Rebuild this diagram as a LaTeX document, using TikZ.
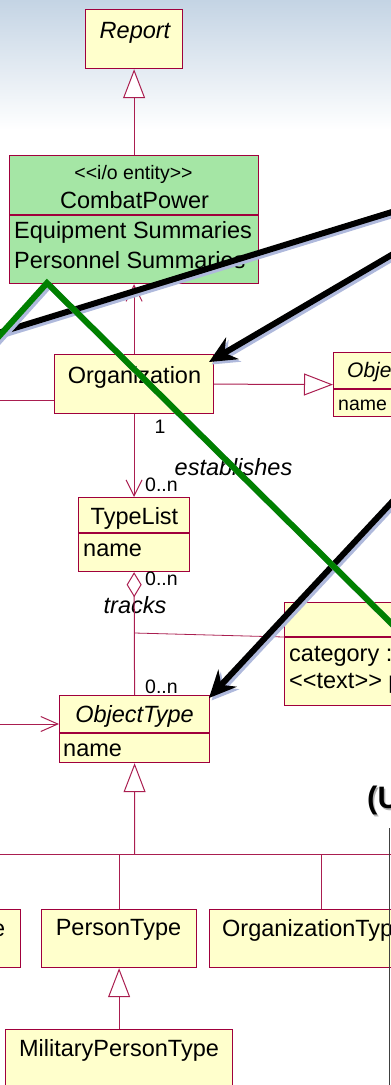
\documentclass[tikz,border=0pt]{standalone}
\usepackage{fontspec}
\setmainfont{Liberation Sans}
\usetikzlibrary{arrows.meta}
\definecolor{umlred}{RGB}{160,0,60}
\definecolor{lnred}{RGB}{170,30,80}
\definecolor{umlyellow}{RGB}{255,255,204}
\definecolor{umlgreen}{RGB}{165,230,165}
\definecolor{darkgreen}{RGB}{0,128,0}
\definecolor{shadowc}{RGB}{175,185,220}
\definecolor{skytop}{RGB}{196,212,228}
\begin{document}
\begin{tikzpicture}[x=1pt,y=-1pt,
  box/.style={draw=umlred, fill=umlyellow, line width=1.2pt, rectangle, inner sep=0pt, anchor=north west},
  lbl/.style={inner sep=0pt, font=\fontsize{23.5}{28}\selectfont},
  ilbl/.style={inner sep=0pt, font=\fontsize{23.5}{28}\selectfont\itshape},
  small/.style={inner sep=0pt, font=\fontsize{19.5}{23}\selectfont},
  divider/.style={draw=umlred, line width=1.2pt},
  conn/.style={draw=lnred, line width=1pt},
  gen/.style={conn, -{Triangle[length=29pt,width=22pt,fill=white,line width=1pt]}},
  nav/.style={conn, -{Straight Barb[length=16pt,width=16pt,line width=1pt]}},
  blk/.style={line width=6pt, draw=black},
  blkshadow/.style={line width=6pt, draw=shadowc, transform canvas={shift={(2.5pt,-2.5pt)}}},
  arrowhd/.style={-{Stealth[length=27pt,width=25pt,inset=9pt]}},
  ]
\useasboundingbox (0,0) rectangle (391,1085);
\shade[top color=skytop, bottom color=white] (0,0) rectangle (391,130);

% boxes
\node[box, minimum width=97pt, minimum height=59pt] (report) at (85,9) {};
\node[box, fill=umlgreen, minimum width=249pt, minimum height=128pt] (combat) at (9,155) {};
\node[box, minimum width=159pt, minimum height=59pt] (org) at (54,354) {};
\node[box, minimum width=120pt, minimum height=64pt] (obje) at (333,352) {};
\node[box, minimum width=111pt, minimum height=74pt] (typelist) at (78,497) {};
\node[box, minimum width=160pt, minimum height=103pt] (assoc) at (284,602) {};
\node[box, minimum width=150pt, minimum height=67pt] (objtype) at (59,695) {};
\node[box, minimum width=50pt, minimum height=58pt] (leftbox) at (-30,909) {};
\node[box, minimum width=155pt, minimum height=58pt] (persontype) at (41,909) {};
\node[box, minimum width=224pt, minimum height=58pt] (orgtype) at (209,909) {};
\node[box, minimum width=227pt, minimum height=100pt] (milperson) at (5,1029) {};

% compartment dividers
\draw[divider] (combat.west |- 0,215) -- (combat.east |- 0,215);
\draw[divider] (obje.west |- 0,389) -- (obje.east |- 0,389);
\draw[divider] (typelist.west |- 0,533) -- (typelist.east |- 0,533);
\draw[divider] (assoc.west |- 0,637) -- (assoc.east |- 0,637);
\draw[divider] (objtype.west |- 0,733) -- (objtype.east |- 0,733);

% texts
\node[ilbl] (reportT) at (135,33) {Report};
\node[small] (combatS) at (133.5,174) {<{}<i/o entity>{}>};
\node[lbl] (combatT) at (134.5,200) {CombatPower};
\node[lbl, anchor=west] (combatA1) at (14,232) {Equipment Summaries};
\node[lbl, anchor=west] (combatA2) at (14,260) {Personnel Summaries};
\node[lbl] (orgT) at (134.5,377) {Organization};
\node[inner sep=0pt, anchor=west, font=\fontsize{21}{25}\selectfont\itshape] (objeT) at (347,372) {Obje};
\node[small, anchor=west] (objeA) at (338,405) {name};
\node[lbl] (typelistT) at (134.5,518) {TypeList};
\node[lbl, anchor=west] (typelistA) at (83,550) {name};
\node[lbl, anchor=west] (assocA1) at (289,656) {category :};
\node[lbl, anchor=west] (assocA2) at (289,683) {<{}<text>{}> p};
\node[ilbl] (objtypeT) at (134.5,716) {ObjectType};
\node[lbl, anchor=west] (objtypeA) at (63,750) {name};
\node[lbl, anchor=east] (leftT) at (5.5,930) {e};
\node[lbl] (persontypeT) at (118.5,930) {PersonType};
\node[lbl, anchor=west] (orgtypeT) at (222,930) {OrganizationTyp};
\node[lbl] (milpersonT) at (119,1050) {MilitaryPersonType};

% multiplicities and role names
\node[small] (m1) at (160,427) {1};
\node[ilbl] (estab) at (233.5,467) {establishes};
\node[small, anchor=west] (m2) at (145,485) {0..n};
\node[small, anchor=west] (m3) at (145,579) {0..n};
\node[ilbl] (tracks) at (135,605) {tracks};
\node[small, anchor=west] (m4) at (145,687) {0..n};

% connectors
\draw[gen] (combat.north) -- (report.south);
\draw[nav] (org.north) -- (combat.south);
\draw[gen] (org.east) -- (obje.west);
\coordinate (lft1) at (0,400);
\draw[conn] (lft1) -- (lft1 -| org.west);
\draw[nav] (org.south) -- (typelist.north);
\draw[conn, {Diamond[length=25pt,width=15pt,fill=white,line width=1pt]}-] (typelist.south) -- (objtype.north);
\coordinate (ac) at (134.5,633);
\draw[conn, line width=0.8pt] (ac) -- (assoc.west |- 0,637);
\coordinate (lft2) at (0,724);
\draw[conn, -{Straight Barb[length=17pt,width=15pt,line width=1pt]}] (lft2) -- (lft2 -| objtype.west);
\coordinate (bus) at (134.5,854);
\coordinate (busL) at (0,854);
\coordinate (busR) at (391,854);
\draw[gen] (bus) -- (objtype.south);
\draw[conn] (busL) -- (busR);
\draw[conn] (persontype.north) -- (persontype.north |- bus);
\draw[conn] (orgtype.north) -- (orgtype.north |- bus);
\draw[gen] (milperson.north) -- (persontype.south);

% frame edge at right
\coordinate (edgeT) at (389.5,828);
\coordinate (edgeB) at (389.5,1085);
\draw[line width=1.5pt, draw=black!75] (edgeT) -- (edgeB);

% "(U" heading
\node[inner sep=0pt, anchor=west, font=\bfseries\fontsize{31}{36}\selectfont, text=black!30] (headS) at (368.5,802) {(U};
\node[inner sep=0pt, anchor=west, font=\bfseries\fontsize{31}{36}\selectfont] (head) at (367,800) {(U};

% black annotation arrows
\coordinate (b1s) at (405,247);
\coordinate (b1e) at (209,362);
\coordinate (b2s) at (405,488);
\coordinate (b2e) at (209,698);
\coordinate (b3s) at (405,208);
\coordinate (b3e) at (-5,334);
\draw[blkshadow] (b3s) -- (b3e);
\draw[blkshadow, arrowhd] (b1s) -- (b1e);
\draw[blkshadow, arrowhd] (b2s) -- (b2e);
\draw[blk] (b3s) -- (b3e);
\draw[blk, arrowhd] (b1s) -- (b1e);
\draw[blk, arrowhd] (b2s) -- (b2e);

% green annotation line
\coordinate (g1) at (-8,344);
\coordinate (g2) at (47,283);
\coordinate (g3) at (400,632);
\draw[line width=6pt, draw=shadowc, line join=miter, transform canvas={shift={(2.5pt,-2.5pt)}}] (g1) -- (g2) -- (g3);
\draw[line width=6pt, draw=darkgreen, line join=miter] (g1) -- (g2) -- (g3);
\end{tikzpicture}
\end{document}
